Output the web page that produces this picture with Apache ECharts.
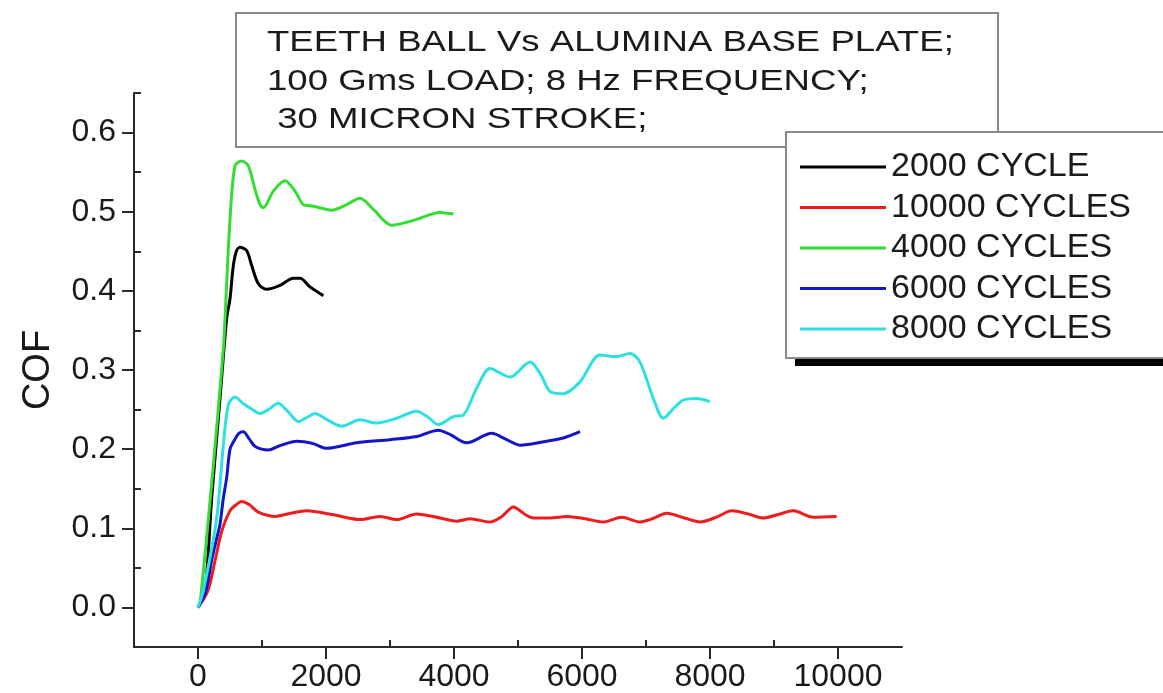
<!DOCTYPE html>
<html><head><meta charset="utf-8">
<script src="https://cdn.jsdelivr.net/npm/echarts@6/dist/echarts.min.js"></script>
<style>html,body{margin:0;padding:0;background:#fff}#chart{width:1163px;height:693px}</style>
</head><body><div id="chart"></div>
<script>
// ---- data ----
const seriesNames = ['2000 CYCLE', '10000 CYCLES', '4000 CYCLES', '6000 CYCLES', '8000 CYCLES'];
const seriesColors = ['#000000', '#ee1c1c', '#33dd33', '#1414c8', '#2ee0e0'];

const x2000 = [0, 109, 214, 344, 448, 500, 552, 604, 656, 760, 839, 943, 1073, 1281, 1490, 1594, 1750, 1958];
const y2000 = [0, 0.021, 0.138, 0.264, 0.365, 0.39, 0.432, 0.451, 0.455, 0.451, 0.432, 0.409, 0.402, 0.407, 0.416, 0.416, 0.405, 0.394];

const x10000 = [0, 150, 266, 370, 500, 600, 683, 800, 950, 1203, 1450, 1698, 2115, 2531, 2844, 3104, 3417, 3781, 4042, 4250, 4563, 4750, 4927, 5100, 5240, 5500, 5760, 6050, 6333, 6620, 6906, 7100, 7323, 7600, 7844, 8100, 8339, 8600, 8833, 9050, 9302, 9615, 9979];
const y10000 = [0, 0.02, 0.059, 0.096, 0.122, 0.13, 0.134, 0.13, 0.12, 0.115, 0.119, 0.122, 0.117, 0.111, 0.115, 0.111, 0.118, 0.113, 0.109, 0.112, 0.108, 0.115, 0.127, 0.118, 0.113, 0.113, 0.115, 0.112, 0.108, 0.114, 0.108, 0.112, 0.119, 0.113, 0.108, 0.114, 0.122, 0.118, 0.113, 0.117, 0.122, 0.114, 0.115];

const x4000 = [0, 31, 240, 396, 422, 500, 578, 683, 786, 891, 969, 1021, 1177, 1359, 1516, 1646, 1802, 2089, 2323, 2531, 2740, 3026, 3365, 3781, 3990];
const y4000 = [0, 0.004, 0.18, 0.327, 0.365, 0.49, 0.558, 0.564, 0.558, 0.528, 0.509, 0.505, 0.526, 0.539, 0.526, 0.509, 0.507, 0.502, 0.509, 0.517, 0.503, 0.483, 0.489, 0.499, 0.497];

const x6000 = [0, 120, 214, 300, 344, 396, 448, 500, 560, 640, 708, 800, 900, 1099, 1300, 1542, 1800, 2010, 2479, 3000, 3417, 3755, 3950, 4198, 4589, 4800, 5031, 5448, 5708, 5969];
const y6000 = [0, 0.02, 0.06, 0.09, 0.105, 0.138, 0.164, 0.2, 0.21, 0.22, 0.222, 0.213, 0.203, 0.199, 0.205, 0.21, 0.207, 0.201, 0.208, 0.212, 0.216, 0.224, 0.218, 0.208, 0.22, 0.213, 0.205, 0.21, 0.214, 0.222];

const x8000 = [0, 83, 292, 396, 474, 578, 700, 850, 969, 1100, 1255, 1400, 1568, 1700, 1828, 2000, 2245, 2531, 2792, 3104, 3417, 3600, 3755, 3990, 4146, 4354, 4563, 4875, 5188, 5350, 5500, 5708, 5969, 6281, 6542, 6750, 6906, 7115, 7271, 7450, 7583, 7792, 8000];
const y8000 = [0, 0.021, 0.113, 0.205, 0.256, 0.266, 0.258, 0.25, 0.245, 0.25, 0.258, 0.248, 0.235, 0.24, 0.245, 0.238, 0.229, 0.237, 0.233, 0.239, 0.248, 0.24, 0.231, 0.241, 0.243, 0.277, 0.302, 0.291, 0.31, 0.295, 0.273, 0.27, 0.285, 0.319, 0.317, 0.321, 0.31, 0.264, 0.239, 0.253, 0.262, 0.264, 0.26];

const xMajorTicks = [0, 2000, 4000, 6000, 8000, 10000];
const xMinorTicks = [1000, 3000, 5000, 7000, 9000];
const yMajorTicks = [0, 0.1, 0.2, 0.3, 0.4, 0.5, 0.6];
const yMinorTicks = [0.05, 0.15, 0.25, 0.35, 0.45, 0.55, 0.65];
const yAxisTitle = 'COF';
const noteLines = ['TEETH BALL Vs ALUMINA BASE PLATE;', '100 Gms LOAD; 8 Hz FREQUENCY;', ' 30 MICRON STROKE;'];

// ---- build ----
const xs = [x2000, x10000, x4000, x6000, x8000];
const ys = [y2000, y10000, y4000, y6000, y8000];
const FONT = 'Liberation Sans, Arial, sans-serif';

const series = seriesNames.map((name, i) => ({
  name: name,
  type: 'line',
  xAxisIndex: 0,
  yAxisIndex: 0,
  data: xs[i].map((x, k) => [x, ys[i][k]]),
  symbol: 'none',
  showSymbol: false,
  smooth: 0.3,
  color: seriesColors[i],
  lineStyle: { width: 3, color: seriesColors[i] },
  z: 3
}));

const axisLineStyle = { color: '#2a2a2a', width: 2 };
const labelStyle = { fontSize: 32, color: '#1a1a1a', fontFamily: FONT };

const option = {
  animation: false,
  backgroundColor: '#ffffff',
  grid: { left: 134, right: 261, top: 93, bottom: 43, containLabel: false },
  xAxis: [
    {
      type: 'value', min: -1000, max: 11000, position: 'bottom',
      axisLine: { show: true, onZero: false, lineStyle: axisLineStyle },
      axisTick: { show: true, inside: false, length: 12, customValues: xMajorTicks, lineStyle: axisLineStyle },
      axisLabel: Object.assign({ show: true, customValues: xMajorTicks, margin: 14, formatter: v => String(v) }, labelStyle),
      splitLine: { show: false }
    },
    {
      type: 'value', min: -1000, max: 11000, position: 'bottom',
      axisLine: { show: false, onZero: false },
      axisTick: { show: true, inside: true, length: 7, customValues: xMinorTicks, lineStyle: axisLineStyle },
      axisLabel: { show: false },
      splitLine: { show: false }
    }
  ],
  yAxis: [
    {
      type: 'value', min: -0.05, max: 0.65, position: 'left',
      name: yAxisTitle, nameLocation: 'middle', nameGap: 76, nameRotate: 90,
      nameTextStyle: { fontSize: 38, color: '#1a1a1a', fontFamily: FONT },
      axisLine: { show: true, onZero: false, lineStyle: axisLineStyle },
      axisTick: { show: true, inside: false, length: 12, customValues: yMajorTicks, lineStyle: axisLineStyle },
      axisLabel: Object.assign({ show: true, customValues: yMajorTicks, margin: 18, formatter: v => v.toFixed(1) }, labelStyle),
      splitLine: { show: false }
    },
    {
      type: 'value', min: -0.05, max: 0.65, position: 'left',
      axisLine: { show: false, onZero: false },
      axisTick: { show: true, inside: true, length: 7, customValues: yMinorTicks, lineStyle: axisLineStyle },
      axisLabel: { show: false },
      splitLine: { show: false }
    }
  ],
  legend: {
    show: true,
    orient: 'vertical',
    left: 800, top: 150,
    padding: 0,
    icon: 'rect',
    itemWidth: 86, itemHeight: 3, itemGap: 6.5,
    data: seriesNames,
    textStyle: { fontSize: 34, lineHeight: 33, color: '#1a1a1a', fontFamily: FONT },
    z: 10
  },
  graphic: [
    { type: 'rect', z: 1, shape: { x: 236, y: 13, width: 762, height: 134 },
      style: { fill: '#fff', stroke: '#8a8a8a', lineWidth: 2 } },
    ...noteLines.map((t, i) => ({
      type: 'text', z: 1, x: 267, y: 42.5 + i * 38.8, scaleX: 1.22,
      style: { text: t, fontSize: 30, fontFamily: FONT, fill: '#1a1a1a', textAlign: 'left', textVerticalAlign: 'middle' }
    })),
    { type: 'rect', z: 2, shape: { x: 795, y: 358, width: 420, height: 8 }, style: { fill: '#000' } },
    { type: 'rect', z: 2, shape: { x: 786, y: 132, width: 420, height: 226 },
      style: { fill: '#fff', stroke: '#8a8a8a', lineWidth: 2 } }
  ],
  series: series
};

const chart = echarts.init(document.getElementById('chart'), null, { renderer: 'canvas' });
chart.setOption(option);
</script>
</body></html>
